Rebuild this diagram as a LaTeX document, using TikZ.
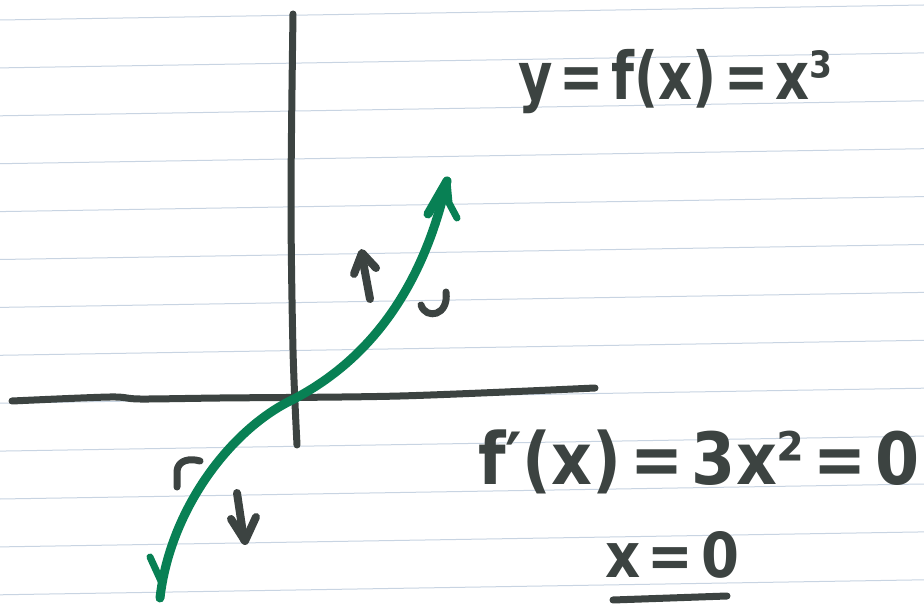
\documentclass[tikz,border=0pt]{standalone}
\usepackage{fontspec}
\setmainfont{DejaVu Sans}[WordSpace=0.4]
\definecolor{ink}{RGB}{60,67,65}
\definecolor{pen}{RGB}{8,128,84}
\definecolor{rule}{RGB}{200,212,226}
\begin{document}
\begin{tikzpicture}[x=1pt,y=-1pt,
  inkline/.style={draw=ink,line width=8pt,line cap=round,line join=round},
  penline/.style={draw=pen,line width=9pt,line cap=round,line join=round},
  ruling/.style={draw=rule,line width=1pt},
  eqtext/.style={text=ink,inner sep=0pt,anchor=base west}]
\useasboundingbox (0,0) rectangle (924,609);
\fill[white] (0,0) rectangle (924,609);
% ruled paper
\foreach \k in {0,...,12}{
  \draw[ruling] (0,{20+47.9*\k}) -- (924,{5+47.9*\k});
}
% axes
\coordinate (yt) at (293,14);
\coordinate (yb) at (297,445);
\coordinate (xl) at (12,401);
\coordinate (xr) at (595,388);
\coordinate (o) at (292,400);
\draw[inkline,line width=7pt] plot[smooth] coordinates {(yt) (291,200) (293,350) (yb)};
\draw[inkline,line width=7pt] plot[smooth] coordinates {(xl) (110,397) (140,399) (220,398) (400,396) (xr)};
% green curve y = x^3
\coordinate (ctop) at (447,181);
\coordinate (cbot) at (160,598);
\draw[penline] (cbot) .. controls (170,510) and (230,430) .. (o) .. controls (360,365) and (420,300) .. (ctop);
% arrow heads (hand drawn)
\draw[penline] (ctop) -- (428,214);
\draw[penline,line width=7pt] (ctop) -- (449,203) -- (457,218);
\draw[penline,line width=7pt] (150,557) -- (161,581);
% small marks
\draw[inkline] (370,299) -- (362,256);
\draw[inkline] (354,274) -- (362,253) -- (376,268);
\draw[inkline,line width=7pt] (421,305) .. controls (426,320) and (449,316) .. (446,292);
\draw[inkline,line width=7pt] (177,487) -- (177,471) .. controls (178,460) and (190,458) .. (200,461);
\draw[inkline] (237,493) -- (244,540);
\draw[inkline] (231,519) -- (245,541) -- (256,517);
% texts
\node[eqtext,font=\fontsize{66}{66}\selectfont\bfseries] (feq) at (518,100) {\scalebox{0.8}[1]{y = f(x) = x³}};
\node[eqtext,font=\fontsize{72}{72}\selectfont\bfseries] (deq) at (478,484) {\scalebox{0.88}[1]{f′(x) = 3x² = 0}};
\node[eqtext,font=\fontsize{62}{62}\selectfont\bfseries] (sol) at (605,577) {\scalebox{0.88}[1]{x = 0}};
\draw[inkline,line width=7pt] (613,600) -- (727,596);
\end{tikzpicture}
\end{document}
